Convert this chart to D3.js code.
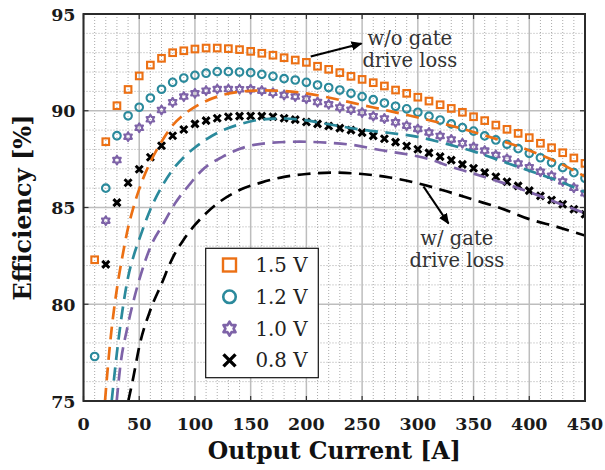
<!DOCTYPE html>
<html><head><meta charset="utf-8">
<script src="https://cdn.jsdelivr.net/npm/d3@7"></script>
<style>body{margin:0;background:#fff;} svg{display:block;}</style>
</head><body><svg id="c" width="605" height="470"></svg>
<script>
// ---------- data ----------
const currents = [10,20,30,40,50,60,70,80,90,100,110,120,130,140,150,160,170,180,190,200,210,220,230,240,250,260,270,280,290,300,310,320,330,340,350,360,370,380,390,400,410,420,430,440,450];
// without gate drive loss (markers)
const eff15 = [82.3,88.4,90.26,91.1,91.8,92.36,92.71,93.0,93.1,93.19,93.24,93.24,93.21,93.16,93.07,92.97,92.87,92.74,92.62,92.5,92.3,92.14,91.97,91.78,91.62,91.45,91.28,91.07,90.9,90.7,90.5,90.31,90.12,89.92,89.69,89.49,89.26,89.04,88.83,88.61,88.32,88.09,87.83,87.56,87.28];
const eff12 = [77.3,86.0,88.71,89.74,90.18,90.66,91.11,91.47,91.69,91.83,91.94,92.02,92.02,92.0,91.97,91.88,91.78,91.66,91.59,91.47,91.33,91.2,91.07,90.9,90.73,90.57,90.4,90.23,90.1,89.92,89.72,89.52,89.32,89.13,88.95,88.7,88.49,88.27,88.04,87.8,87.57,87.32,87.06,86.8,86.51];
const eff10 = [null,84.32,87.45,88.66,89.12,89.56,90.04,90.44,90.73,90.9,91.04,91.12,91.12,91.11,91.11,91.04,90.93,90.81,90.73,90.62,90.45,90.33,90.17,90.05,89.91,89.72,89.6,89.4,89.23,89.06,88.88,88.7,88.52,88.32,88.13,87.94,87.71,87.52,87.28,87.08,86.85,86.64,86.35,86.02,85.73];
const eff08 = [null,82.06,85.25,86.28,86.98,87.6,88.19,88.71,89.03,89.32,89.49,89.61,89.69,89.72,89.73,89.72,89.69,89.61,89.54,89.42,89.32,89.21,89.1,89.0,88.87,88.7,88.55,88.38,88.18,88.01,87.82,87.63,87.45,87.23,87.03,86.8,86.59,86.33,86.12,85.87,85.6,85.39,85.17,84.91,84.65];
// with gate drive loss (dashed)
const gdX15 = [19.3,21,25,30,35,40,45,50,60,70,80,90,100,120,140,160,180,200,225,250,275,300,325,350,375,400,425,450];
const gd15  = [75,76.2,78.6,80.8,82.5,83.95,85.05,85.95,87.35,88.4,89.25,89.8,90.2,90.73,90.98,91.05,91.02,90.9,90.62,90.3,89.98,89.65,89.3,88.9,88.45,87.95,87.35,86.6];
const gdX12 = [25.3,30,35,40,45,50,60,70,80,90,100,120,140,160,180,200,225,250,275,300,325,350,375,400,425,450];
const gd12  = [75,77.5,79.7,81.4,82.5,83.35,84.9,86.05,86.95,87.6,88.1,88.85,89.3,89.55,89.6,89.5,89.25,89.02,88.85,88.65,88.3,87.9,87.4,86.9,86.4,85.8];
const gdX10 = [29.8,33,39,45,51,60,72,82,96,105,125,146,170,194,218,242,266,290,311,325,350,375,400,425,450];
const gd10  = [75,76.8,78.7,80.2,81.45,82.95,84.2,85.2,86.25,86.85,87.63,88.14,88.35,88.4,88.35,88.23,87.97,87.75,87.49,87.2,86.75,86.3,85.8,85.25,84.7];
const gdX08 = [40.2,45,50,60,70,80,90,100,110,120,140,160,180,200,225,250,275,300,325,350,375,400,425,450];
const gd08  = [75,76.3,77.8,79.7,81.05,82.4,83.35,84.1,84.7,85.2,85.9,86.3,86.58,86.73,86.8,86.73,86.55,86.25,85.85,85.4,84.95,84.4,84.0,83.55];

const seriesNames = ["1.5 V","1.2 V","1.0 V","0.8 V"];
const xTicks = [0,50,100,150,200,250,300,350,400,450];
const yTicks = [75,80,85,90,95];
const xLabel = "Output Current [A]";
const yLabel = "Efficiency [%]";
const noteTop = ["w/o gate","drive loss"];
const noteBottom = ["w/ gate","drive loss"];

// ---------- layout ----------
const colors = ["#EC7014","#2B8A9C","#7E63A8","#000000"];
const shapes = ["square","circle","hexagram","cross"];
const m = {l:83.5, t:14, r:585, b:401};
const svg = d3.select("#c");
const x = d3.scaleLinear().domain([0,450]).range([m.l,m.r]);
const y = d3.scaleLinear().domain([75,95]).range([m.b,m.t]);
const serif = "'DejaVu Serif', serif";

const defs = svg.append("defs");
defs.append("clipPath").attr("id","clip")
  .append("rect").attr("x",m.l).attr("y",m.t).attr("width",m.r-m.l).attr("height",m.b-m.t);

// minor grid
const g = svg.append("g");
const xMinor = d3.range(0,451,10).filter(v=>v%50!==0);
const yMinor = d3.range(75,95.01,1).filter(v=>v%5!==0);
g.selectAll(".vx").data(xMinor).join("line")
  .attr("x1",d=>x(d)).attr("x2",d=>x(d)).attr("y1",m.t).attr("y2",m.b)
  .attr("stroke","#a0a0a0").attr("stroke-width",0.9).attr("stroke-dasharray","1,2");
g.selectAll(".hy").data(yMinor).join("line")
  .attr("y1",d=>y(d)).attr("y2",d=>y(d)).attr("x1",m.l).attr("x2",m.r)
  .attr("stroke","#a0a0a0").attr("stroke-width",0.9).attr("stroke-dasharray","1,2");
// major grid
g.selectAll(".mx").data(xTicks).join("line")
  .attr("x1",d=>x(d)).attr("x2",d=>x(d)).attr("y1",m.t).attr("y2",m.b)
  .attr("stroke","#bdbdbd").attr("stroke-width",1.5);
g.selectAll(".my").data(yTicks).join("line")
  .attr("y1",d=>y(d)).attr("y2",d=>y(d)).attr("x1",m.l).attr("x2",m.r)
  .attr("stroke","#bdbdbd").attr("stroke-width",1.5);

// marker symbol paths
function hexagram(r){
  const pts=[];
  for(let i=0;i<12;i++){
    const a = -Math.PI/2 + i*Math.PI/6;
    const rr = (i%2===0)? r : r/Math.sqrt(3);
    pts.push([rr*Math.cos(a), rr*Math.sin(a)]);
  }
  return "M"+pts.map(p=>p[0].toFixed(2)+","+p[1].toFixed(2)).join("L")+"Z";
}
function drawMarker(sel, shape, color, s){
  if(shape==="square"){
    sel.append("rect").attr("x",-s/2).attr("y",-s/2).attr("width",s).attr("height",s)
      .attr("fill","none").attr("stroke",color).attr("stroke-width",s>8?2.4:2.1);
  } else if(shape==="circle"){
    sel.append("circle").attr("r",s/2).attr("fill","none").attr("stroke",color).attr("stroke-width",s>8?2.6:2.1);
  } else if(shape==="hexagram"){
    sel.append("path").attr("d",hexagram(s/2)).attr("fill","none").attr("stroke",color)
      .attr("stroke-width",s>9?2.6:2.1).attr("stroke-linejoin","round");
  } else {
    const h=s/2;
    sel.append("path").attr("d",`M${-h},${-h}L${h},${h}M${-h},${h}L${h},${-h}`)
      .attr("stroke",color).attr("stroke-width",s>8?3.4:3).attr("stroke-linecap","butt");
  }
}

const plot = svg.append("g").attr("clip-path","url(#clip)");
const markerSeries = [eff15,eff12,eff10,eff08];
const markerSize = [6.6,7.6,8.8,7];
markerSeries.forEach((vals,i)=>{
  const pts = currents.map((c,j)=>({c,v:vals[j]})).filter(d=>d.v!==null);
  plot.append("g").selectAll("g").data(pts).join("g")
    .attr("transform",d=>`translate(${x(d.c)},${y(d.v)})`)
    .each(function(){ drawMarker(d3.select(this), shapes[i], colors[i], markerSize[i]); });
});

const dashX = [gdX15,gdX12,gdX10,gdX08];
const dashY = [gd15,gd12,gd10,gd08];
const line = d3.line().x(d=>x(d[0])).y(d=>y(d[1])).curve(d3.curveMonotoneX);
dashX.forEach((xs,i)=>{
  plot.append("path").datum(xs.map((c,j)=>[c,dashY[i][j]]))
    .attr("d",line).attr("fill","none").attr("stroke",colors[i])
    .attr("stroke-width",2.7).attr("stroke-dasharray","13,7.5");
});

// frame & ticks
const ax = svg.append("g");
const tickCol = "#333";
xTicks.forEach(t=>{
  ax.append("line").attr("x1",x(t)).attr("x2",x(t)).attr("y1",m.b).attr("y2",m.b-5).attr("stroke",tickCol).attr("stroke-width",1.2);
  ax.append("line").attr("x1",x(t)).attr("x2",x(t)).attr("y1",m.t).attr("y2",m.t+5).attr("stroke",tickCol).attr("stroke-width",1.2);
});
yTicks.forEach(t=>{
  ax.append("line").attr("y1",y(t)).attr("y2",y(t)).attr("x1",m.l).attr("x2",m.l+5).attr("stroke",tickCol).attr("stroke-width",1.2);
  ax.append("line").attr("y1",y(t)).attr("y2",y(t)).attr("x1",m.r).attr("x2",m.r-5).attr("stroke",tickCol).attr("stroke-width",1.2);
});
ax.append("rect").attr("x",m.l).attr("y",m.t).attr("width",m.r-m.l).attr("height",m.b-m.t)
  .attr("fill","none").attr("stroke","#2b2b2b").attr("stroke-width",2);

// tick labels
ax.selectAll(".xt").data(xTicks).join("text")
  .attr("x",d=>x(d)).attr("y",m.b+29).attr("text-anchor","middle")
  .attr("font-family",serif).attr("font-weight","bold").attr("font-size",17.5).attr("fill","#1a1a1a")
  .text(d=>d);
ax.selectAll(".yt").data(yTicks).join("text")
  .attr("x",m.l-8).attr("y",d=>y(d)+6.5).attr("text-anchor","end")
  .attr("font-family",serif).attr("font-weight","bold").attr("font-size",17.5).attr("fill","#1a1a1a")
  .text(d=>d);

// axis labels
svg.append("text").attr("x",(m.l+m.r)/2).attr("y",459).attr("text-anchor","middle")
  .attr("font-family",serif).attr("font-weight","bold").attr("font-size",23.5).attr("fill","#111")
  .text(xLabel);
svg.append("text").attr("transform",`translate(31,${(m.t+m.b)/2}) rotate(-90)`).attr("text-anchor","middle")
  .attr("font-family",serif).attr("font-weight","bold").attr("font-size",24).attr("fill","#111")
  .text(yLabel);

// legend
const lg = svg.append("g");
lg.append("rect").attr("x",205.7).attr("y",248.3).attr("width",112.6).attr("height",129.4)
  .attr("fill","#fff").attr("stroke","#111").attr("stroke-width",1.2);
const legSize = [13,12.5,14,12];
seriesNames.forEach((n,i)=>{
  const yy = 265 + i*31.8;
  const mg = lg.append("g").attr("transform",`translate(229.5,${yy})`);
  drawMarker(mg, shapes[i], colors[i], legSize[i]);
  lg.append("text").attr("x",255.5).attr("y",yy+7).attr("font-family",serif)
    .attr("font-size",19.8).attr("fill","#222").text(n);
});

// annotations
defs.append("marker").attr("id","arr").attr("viewBox","0 0 10 10").attr("refX",9).attr("refY",5)
  .attr("markerWidth",5).attr("markerHeight",5).attr("orient","auto").attr("markerUnits","strokeWidth")
  .append("path").attr("d","M0,0.8L10,5L0,9.2Z").attr("fill","#000");
svg.append("line").attr("x1",310.7).attr("y1",56.5).attr("x2",361.5).attr("y2",43.5)
  .attr("stroke","#000").attr("stroke-width",2.2).attr("marker-end","url(#arr)");
svg.append("line").attr("x1",423.5).attr("y1",186.5).attr("x2",448.5).attr("y2",223.5)
  .attr("stroke","#000").attr("stroke-width",2.2).attr("marker-end","url(#arr)");
const ann = svg.append("g").attr("font-family",serif).attr("font-size",19.5).attr("fill","#333").attr("text-anchor","middle");
noteTop.forEach((t,i)=>ann.append("text").attr("x",409.8).attr("y",45+i*21.5).text(t));
noteBottom.forEach((t,i)=>ann.append("text").attr("x",456.8).attr("y",245+i*21.5).text(t));
</script></body></html>
